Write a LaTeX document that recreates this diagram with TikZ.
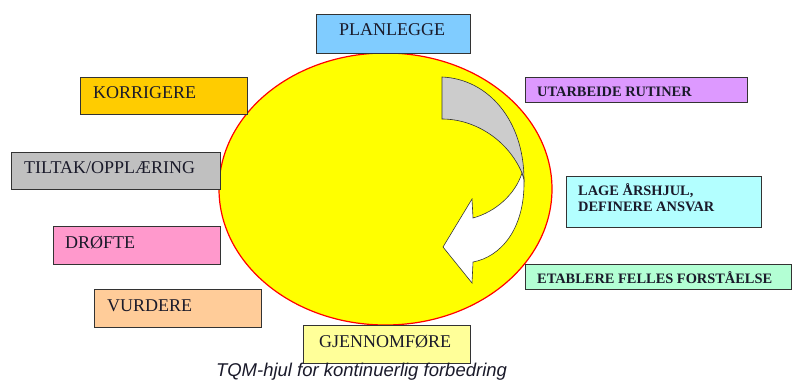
\documentclass[tikz,border=0pt]{standalone}
\usepackage{fontspec}
\setmainfont{Liberation Serif}
\newfontfamily\capfont{Liberation Sans}
\usetikzlibrary{shapes.geometric}
\definecolor{cplan}{HTML}{80CCFF}
\definecolor{ckorr}{HTML}{FFCC00}
\definecolor{ctilt}{HTML}{C0C0C0}
\definecolor{cdrof}{HTML}{FF99CC}
\definecolor{cvurd}{HTML}{FFCC99}
\definecolor{cgjen}{HTML}{FFFF99}
\definecolor{cutar}{HTML}{DD99FF}
\definecolor{clage}{HTML}{B3FFFF}
\definecolor{cetab}{HTML}{B3FFD4}
\definecolor{cgray}{HTML}{CCCCCC}
\definecolor{cline}{HTML}{333333}
\definecolor{ctext}{HTML}{1A1A2A}
\definecolor{cyel}{HTML}{FFFF00}
\definecolor{cred}{HTML}{FF0000}
\tikzset{
  box/.style={draw=cline, line width=1.1pt, inner sep=0pt},
  big/.style={anchor=base west, inner sep=0pt, text=ctext, font=\fontsize{18}{20}\selectfont},
  small/.style={anchor=base west, inner sep=0pt, text=ctext, font=\bfseries\fontsize{14.4}{16}\selectfont},
  arrowpart/.style={draw=cline, line width=0.6pt}
}
\begin{document}
\begin{tikzpicture}[x=1pt, y=-1pt]
\useasboundingbox (0,0) rectangle (795,383);
% wheel
\node[ellipse, draw=cred, line width=1.2pt, fill=cyel, minimum width=333pt, minimum height=272pt, inner sep=0pt] (wheel) at (385.5,189) {};
% curved arrow
\path[arrowpart, fill=cgray] (442,77) .. controls (488,79) and (524,120) .. (524,180)
  -- (522,173) .. controls (508,140) and (475,119) .. (442,119) -- cycle;
\path[arrowpart, fill=white] (522,173) .. controls (515,195) and (495,212) .. (473,218)
  -- (472,199) -- (443,247) -- (472,283) -- (473,262)
  .. controls (500,257) and (525,230) .. (524,180) -- cycle;
% boxes
\node[box, fill=cplan, minimum width=154pt, minimum height=39pt, anchor=north west] (plan) at (316,14) {};
\node[big] (planT) at (339,35) {PLANLEGGE};
\node[box, fill=ckorr, minimum width=167pt, minimum height=37pt, anchor=north west] (korr) at (80,77) {};
\node[big] (korrT) at (93,98) {KORRIGERE};
\node[box, fill=ctilt, minimum width=209pt, minimum height=37pt, anchor=north west] (tilt) at (11,152) {};
\node[big] (tiltT) at (24,173) {TILTAK/OPPLÆRING};
\node[box, fill=cdrof, minimum width=167pt, minimum height=38pt, anchor=north west] (drof) at (53,226) {};
\node[big] (drofT) at (65,248) {DRØFTE};
\node[box, fill=cvurd, minimum width=167pt, minimum height=38pt, anchor=north west] (vurd) at (94,289) {};
\node[big] (vurdT) at (107,311) {VURDERE};
\node[box, fill=cgjen, minimum width=167pt, minimum height=38pt, anchor=north west] (gjen) at (303,325) {};
\node[big] (gjenT) at (319,347) {GJENNOMFØRE};
\node[box, fill=cutar, minimum width=222pt, minimum height=25pt, anchor=north west] (utar) at (525,77) {};
\node[small] (utarT) at (537,96) {UTARBEIDE RUTINER};
\node[box, fill=clage, minimum width=195pt, minimum height=51pt, anchor=north west] (lage) at (566,176) {};
\node[small] (lageT1) at (578,195) {LAGE ÅRSHJUL,};
\node[small] (lageT2) at (578,211) {DEFINERE ANSVAR};
\node[box, fill=cetab, minimum width=266pt, minimum height=25pt, anchor=north west] (etab) at (525,264) {};
\node[small] (etabT) at (537,283) {ETABLERE FELLES FORSTÅELSE};
% caption
\node[anchor=base, inner sep=0pt, text=ctext, font=\capfont\itshape\fontsize{18.5}{20}\selectfont] (cap) at (361.5,376) {TQM-hjul for kontinuerlig forbedring};
\end{tikzpicture}
\end{document}
